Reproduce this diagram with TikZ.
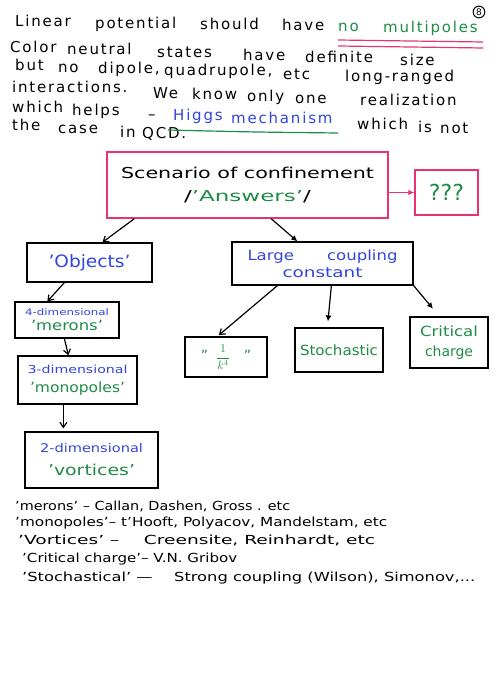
\documentclass[tikz,border=0pt]{standalone}
\usepackage{fontspec}
\setmainfont{DejaVu Sans}
\newfontfamily\hwfont[LetterSpace=12]{DejaVu Sans}
\usepackage{graphicx}
\usetikzlibrary{arrows.meta}
\definecolor{hpink}{RGB}{232,52,110}
\definecolor{hgreen}{RGB}{30,140,70}
\definecolor{hblue}{RGB}{50,70,220}
\newlength\fitlen
\newcommand\fitw[2]{\settowidth\fitlen{#2}\edef\fitf{\fpeval{(#1)/\fitlen}}\scalebox{\fitf}[1]{#2}}
\begin{document}
\begin{tikzpicture}[x=1pt,y=-1pt,
  box/.style={draw=black, line width=1.25pt, inner sep=0pt, align=center},
  pbox/.style={draw=hpink, line width=1.5pt, inner sep=0pt, align=center},
  openarr/.style={-{Straight Barb[length=5pt,width=7pt]}, line width=1.2pt},
  fillarr/.style={-{Latex[length=6pt,width=6pt]}, line width=1.2pt},
  txt/.style={anchor=base west, inner sep=0pt},
  head/.style={txt, font=\hwfont\fontsize{15}{15}\selectfont},
  foot/.style={txt, font=\fontsize{12.5}{13}\selectfont}]
\fill[white] (0,0) rectangle (500,687);
\useasboundingbox (0,0) rectangle (500,687);

% header text: handwritten lines drift downwards to the right
% line 1
\node[head] (w1a) at (15,27)   {Linear};
\node[head] (w1b) at (95,28.2) {potential};
\node[head] (w1c) at (200,29.8){should};
\node[head] (w1d) at (282,31)  {have};
\node[head, text=hgreen] (w1e) at (338,31.8) {no};
\node[head, text=hgreen] (w1f) at (383,32.6) {multipoles};
% line 2
\node[head] (w2a) at (10,53)   {Color};
\node[head] (w2b) at (67,54.8) {neutral};
\node[head] (w2c) at (157,57.7){states};
\node[head] (w2d) at (243,60.5){have};
\node[head] (w2e) at (305,62.4){definite};
\node[head] (w2f) at (400,65.5){size};
% line 3
\node[head] (w3a) at (15,71)   {but};
\node[head] (w3b) at (58,72.4) {no};
\node[head] (w3c) at (98,73.8) {dipole,};
\node[head] (w3d) at (164,75.9){quadrupole,};
\node[head] (w3e) at (283,79.8){etc};
\node[head] (w3f) at (345,81.7){long-ranged};
% line 4
\node[head] (w4a) at (12,93)   {interactions.};
\node[head] (w4b) at (153,98.2){We};
\node[head] (w4c) at (192,99.7){know};
\node[head] (w4d) at (247,101.6){only};
\node[head] (w4e) at (295,103.4){one};
\node[head] (w4f) at (360,105.5){realization};
% line 5
\node[head] (w5a) at (12,113)  {which};
\node[head] (w5b) at (72,115.8){helps};
\node[head] (w5c) at (148,119.5){–};
\node[head, text=hblue] (w5d) at (173,120.7){Higgs};
\node[head, text=hblue] (w5e) at (231,123.6){mechanism};
\node[head] (w5f) at (357,129.6){which};
\node[head] (w5g) at (418,132.4){is};
\node[head] (w5h) at (440,133.5){not};
% line 6
\node[head] (w6a) at (12,131)  {the};
\node[head] (w6b) at (58,133.8){case};
\node[head] (w6c) at (120,137.5){in};
\node[head] (w6d) at (142,138.7){QCD.};

\draw[hpink, line width=1.2pt] (338,40) -- (483,42);
\draw[hpink, line width=1.2pt] (338,46) -- (483,48);
\draw[hgreen, line width=1.2pt] (168,130) .. controls (250,132) .. (338,133);
\node[draw, circle, inner sep=1pt, line width=1pt, font=\fontsize{9}{9}\selectfont] (pg) at (479,12) {8};

% boxes
\node[pbox, minimum width=281pt, minimum height=66pt, font=\fontsize{15}{23}\selectfont] (scen) at (247.5,185)
  {\fitw{253pt}{Scenario of confinement}\\\fitw{127pt}{/\textcolor{hgreen}{'Answers'}/}};
\node[pbox, minimum width=63pt, minimum height=45pt, text=hgreen, font=\fontsize{22}{22}\selectfont] (qqq) at (446.5,192.5) {???};
\node[box, minimum width=125pt, minimum height=39pt, text=hblue, font=\fontsize{17}{17}\selectfont] (obj) at (89.5,262.5) {\fitw{82pt}{'Objects'}};
\node[box, minimum width=181pt, minimum height=43pt, text=hblue, font=\fontsize{14}{17}\selectfont] (lcc) at (322.5,263.5)
  {\fitw{150pt}{Large\quad\quad coupling}\\\fitw{80pt}{constant}};
\node[box, minimum width=104pt, minimum height=36pt, font=\fontsize{14}{15}\selectfont] (mer) at (67,320)
  {{\fontsize{9}{9}\selectfont\color{hblue}\fitw{84pt}{4-dimensional}}\\{\color{hgreen}\fitw{72pt}{'merons'}}};
\node[box, minimum width=119pt, minimum height=48pt, font=\fontsize{14}{19}\selectfont] (mono) at (77.5,380)
  {{\fontsize{11}{11}\selectfont\color{hblue}\fitw{100pt}{3-dimensional}}\\{\color{hgreen}\fitw{95pt}{'monopoles'}}};
\node[box, minimum width=133pt, minimum height=56pt, font=\fontsize{15}{23}\selectfont] (vort) at (91.5,460)
  {{\fontsize{12}{12}\selectfont\color{hblue}\fitw{103pt}{2-dimensional}}\\{\color{hgreen}\fitw{87pt}{'vortices'}}};
\node[box, minimum width=82pt, minimum height=40pt, text=hgreen, font=\fontsize{14}{14}\selectfont] (kinv) at (226,357)
  {”\hspace{8pt}{\fontsize{12}{12}\selectfont$\displaystyle\frac{1}{k^4}$}\hspace{14pt}”};
\node[box, minimum width=88pt, minimum height=44pt, text=hgreen, font=\fontsize{14}{14}\selectfont] (stoch) at (339,350) {\fitw{78pt}{Stochastic}};
\node[box, minimum width=78pt, minimum height=51pt, text=hgreen, font=\fontsize{14}{20}\selectfont] (crit) at (449,342.5)
  {\fitw{58pt}{Critical}\\\fitw{48pt}{charge}};

% connectors
\draw[openarr] ([xshift=28pt]scen.south west) -- ([xshift=76pt]obj.north west);
\draw[fillarr] ([xshift=165pt]scen.south west) -- ([xshift=66pt]lcc.north west);
\draw[fillarr, hpink] (scen.east |- qqq.west) -- (qqq.west);
\draw[openarr] ([xshift=38pt]obj.south west) -- ([xshift=33pt]mer.north west);
\draw[openarr] ([xshift=50pt]mer.south west) -- ([xshift=51pt]mono.north west);
\draw[openarr, shorten >=3pt] ([xshift=46pt]mono.south west) -- ([xshift=39pt]vort.north west);
\draw[openarr, shorten >=2pt] ([xshift=46pt]lcc.south west) -- ([xshift=33pt]kinv.north west);
\draw[fillarr, shorten >=6pt] ([xshift=100pt]lcc.south west) -- ([xshift=33pt]stoch.north west);
\draw[fillarr, shorten >=10pt] (lcc.south east) -- ([xshift=30pt]crit.north west);

% footer text
\node[foot] (f1) at (15,510) {\fitw{275pt}{'merons' – Callan, Dashen, Gross . etc}};
\node[foot] (f2) at (15,526) {\fitw{372pt}{'monopoles'– t'Hooft, Polyacov, Mandelstam, etc}};
\node[foot] (f3) at (18,544) {\fitw{357pt}{'Vortices' – \quad Creensite, Reinhardt, etc}};
\node[foot] (f4) at (22,562) {\fitw{215pt}{'Critical charge'– V.N. Gribov}};
\node[foot] (f5) at (22,581) {\fitw{453pt}{'Stochastical' — \quad Strong coupling (Wilson), Simonov,...}};
\end{tikzpicture}
\end{document}
